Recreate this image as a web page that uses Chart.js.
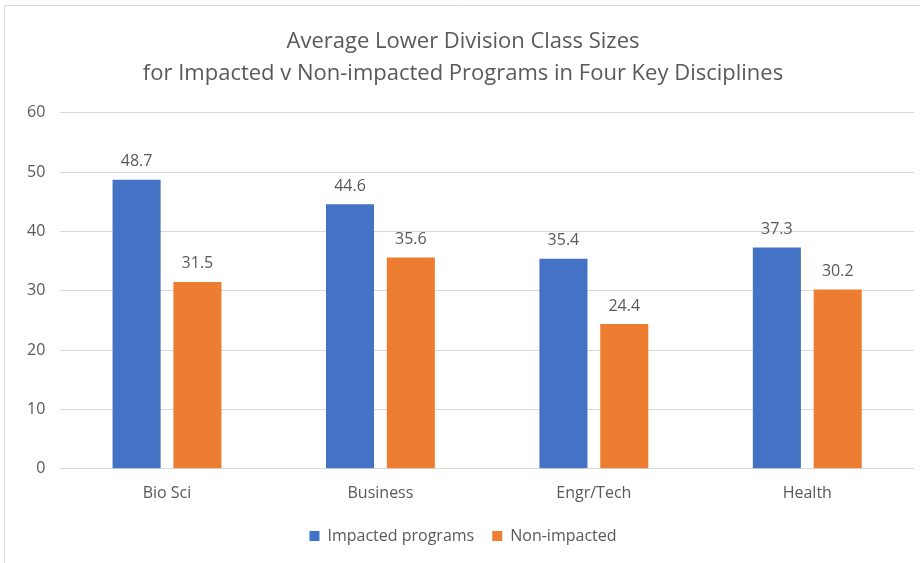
<!DOCTYPE html>
<html>
<head>
<meta charset="utf-8">
<script src="https://cdn.jsdelivr.net/npm/chart.js@4"></script>
<style>
  html, body { margin: 0; padding: 0; background: #fff; }
  #wrap { width: 920px; height: 563px; position: relative; }
</style>
</head>
<body>
<div id="wrap"><canvas id="chart" width="920" height="563"></canvas></div>
<script>
// --- data ---
const categories = ['Bio Sci', 'Business', 'Engr/Tech', 'Health'];
const impacted = [48.7, 44.6, 35.4, 37.3];
const nonImpacted = [31.5, 35.6, 24.4, 30.2];
const yTicks = [0, 10, 20, 30, 40, 50, 60];

const textColor = '#595959';
const fontFamily = "'Open Sans', 'Noto Sans', sans-serif";

// draws the value above each bar
const barLabels = {
    id: 'barLabels',
    afterDatasetsDraw(chart) {
        const ctx = chart.ctx;
        ctx.save();
        ctx.fillStyle = textColor;
        ctx.font = "16px " + fontFamily;
        ctx.textAlign = 'center';
        ctx.textBaseline = 'bottom';
        chart.data.datasets.forEach((ds, i) => {
            chart.getDatasetMeta(i).data.forEach((bar, j) => {
                ctx.fillText(ds.data[j].toFixed(1), bar.x, bar.y - 10);
            });
        });
        ctx.restore();
    }
};

// thin frame like the spreadsheet chart box
const frame = {
    id: 'frame',
    beforeDraw(chart) {
        const ctx = chart.ctx;
        ctx.save();
        ctx.fillStyle = '#fff';
        ctx.fillRect(0, 0, chart.width, chart.height);
        ctx.strokeStyle = '#d9d9d9';
        ctx.lineWidth = 1;
        ctx.beginPath();
        ctx.moveTo(4.5, chart.height);
        ctx.lineTo(4.5, 5.5);
        ctx.lineTo(chart.width, 5.5);
        ctx.stroke();
        ctx.restore();
    }
};

new Chart(document.getElementById('chart').getContext('2d'), {
    type: 'bar',
    data: {
        labels: categories,
        datasets: [
            { label: 'Impacted programs', data: impacted, backgroundColor: '#4472C4' },
            { label: 'Non-impacted', data: nonImpacted, backgroundColor: '#ED7D31' }
        ]
    },
    options: {
        responsive: false,
        animation: false,
        layout: { padding: { left: 12, right: 6, top: 13, bottom: 9 } },
        datasets: { bar: { categoryPercentage: 0.57, barPercentage: 0.79 } },
        plugins: {
            title: {
                display: true,
                text: ['Average Lower Division Class Sizes', 'for Impacted v Non-impacted Programs in Four Key Disciplines'],
                color: textColor,
                font: { family: fontFamily, size: 22, weight: 'normal', lineHeight: 1.45 },
                padding: { top: 13, bottom: 23 }
            },
            legend: {
                position: 'bottom',
                labels: {
                    color: textColor,
                    font: { family: fontFamily, size: 16 },
                    boxWidth: 10,
                    boxHeight: 10,
                    padding: 18
                }
            },
            tooltip: { enabled: false }
        },
        scales: {
            x: {
                grid: { display: false },
                border: { display: false },
                ticks: { color: textColor, font: { family: fontFamily, size: 16 }, padding: 7 }
            },
            y: {
                min: 0,
                max: 60,
                afterBuildTicks(axis) { axis.ticks = yTicks.map(v => ({ value: v })); },
                grid: { color: '#d9d9d9', drawTicks: false },
                border: { display: false },
                ticks: { color: textColor, font: { family: fontFamily, size: 16 }, padding: 15 }
            }
        }
    },
    plugins: [frame, barLabels]
});
</script>
</body>
</html>
